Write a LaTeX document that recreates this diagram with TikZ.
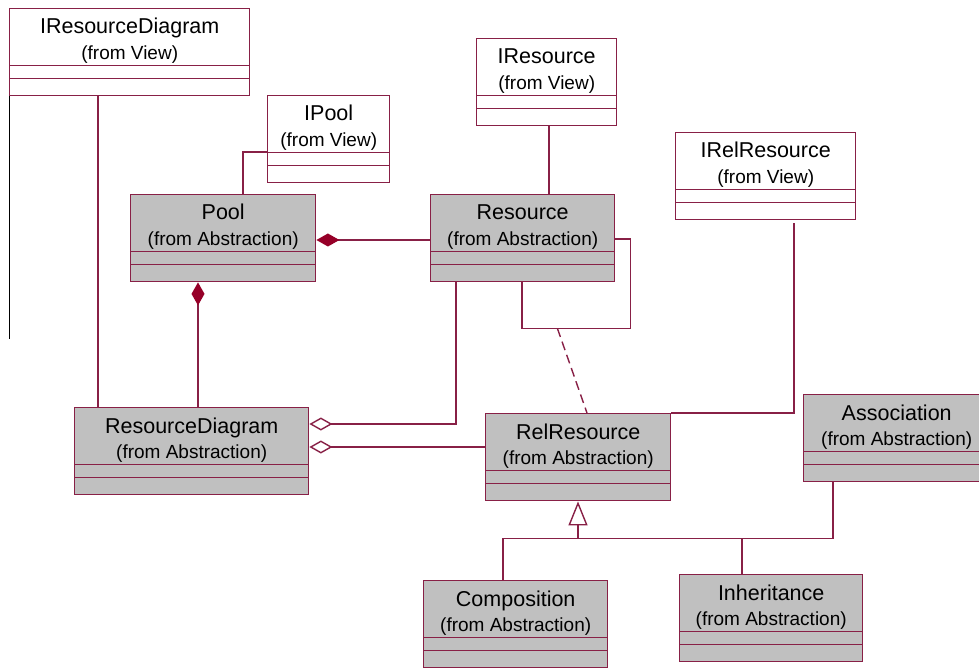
\documentclass[tikz,border=0pt]{standalone}
\usepackage{fontspec}
\setmainfont{Liberation Sans}
\usepackage{tikz}
\usetikzlibrary{arrows.meta,calc,positioning}
\definecolor{umlline}{RGB}{136,32,70}
\definecolor{umlfill}{RGB}{192,192,192}
\definecolor{compofill}{RGB}{150,0,40}

\begin{document}
\begin{tikzpicture}[
  x=1pt, y=-1pt,
  cls/.style={draw=umlline, line width=1.4pt, minimum height=87pt, inner sep=0pt, anchor=north west,
    path picture={\draw[umlline, line width=1.4pt]
      ([yshift=-57pt]path picture bounding box.north west) -- ([yshift=-57pt]path picture bounding box.north east)
      ([yshift=-70pt]path picture bounding box.north west) -- ([yshift=-70pt]path picture bounding box.north east);}},
  viewcls/.style={cls, fill=white},
  abscls/.style={cls, fill=umlfill},
  ctitle/.style={anchor=base, inner sep=0pt, font=\fontsize{21.5}{24}\selectfont},
  csub/.style={anchor=base, inner sep=0pt, font=\fontsize{19}{22}\selectfont},
  link/.style={draw=umlline, line width=1.4pt},
  compo/.style={link, {Diamond[length=23pt, width=13pt, fill=compofill, color=compofill]}-},
  aggr/.style={link, {Diamond[open, length=23pt, width=13pt, fill=white]}-},
  inherit/.style={link, -{Triangle[open, length=24pt, width=19pt, fill=white]}}
]
\clip (0,0) rectangle (979,668);

% interfaces (from View)
\node[viewcls, minimum width=240pt] (irdiag) at (9,8) {};
\node[ctitle] (irdiag-n) at ([yshift=-26pt]irdiag.north) {IResourceDiagram};
\node[csub] (irdiag-f) at ([yshift=-51.5pt]irdiag.north) {(from View)};

\node[viewcls, minimum width=122pt] (ipool) at (267,95) {};
\node[ctitle] (ipool-n) at ([yshift=-26pt]ipool.north) {IPool};
\node[csub] (ipool-f) at ([yshift=-51.5pt]ipool.north) {(from View)};

\node[viewcls, minimum width=140pt] (ires) at (476,38) {};
\node[ctitle] (ires-n) at ([yshift=-26pt]ires.north) {IResource};
\node[csub] (ires-f) at ([yshift=-51.5pt]ires.north) {(from View)};

\node[viewcls, minimum width=180pt] (irelres) at (675,132) {};
\node[ctitle] (irelres-n) at ([yshift=-26pt]irelres.north) {IRelResource};
\node[csub] (irelres-f) at ([yshift=-51.5pt]irelres.north) {(from View)};

% classes (from Abstraction)
\node[abscls, minimum width=185pt] (pool) at (130,194) {};
\node[ctitle] (pool-n) at ([yshift=-26pt]pool.north) {Pool};
\node[csub] (pool-f) at ([yshift=-51.5pt]pool.north) {(from Abstraction)};

\node[abscls, minimum width=184pt] (res) at (430,194) {};
\node[ctitle] (res-n) at ([yshift=-26pt]res.north) {Resource};
\node[csub] (res-f) at ([yshift=-51.5pt]res.north) {(from Abstraction)};

\node[abscls, minimum width=234pt] (rdiag) at (74,407) {};
\node[ctitle] (rdiag-n) at ([yshift=-26pt]rdiag.north) {ResourceDiagram};
\node[csub] (rdiag-f) at ([yshift=-51.5pt]rdiag.north) {(from Abstraction)};

\node[abscls, minimum width=185pt] (relres) at (485,413) {};
\node[ctitle] (relres-n) at ([yshift=-26pt]relres.north) {RelResource};
\node[csub] (relres-f) at ([yshift=-51.5pt]relres.north) {(from Abstraction)};

\node[abscls, minimum width=186pt] (assoc) at (803,394) {};
\node[ctitle] (assoc-n) at ([yshift=-26pt]assoc.north) {Association};
\node[csub] (assoc-f) at ([yshift=-51.5pt]assoc.north) {(from Abstraction)};

\node[abscls, minimum width=184pt] (compo) at (423,580) {};
\node[ctitle] (compo-n) at ([yshift=-26pt]compo.north) {Composition};
\node[csub] (compo-f) at ([yshift=-51.5pt]compo.north) {(from Abstraction)};

\node[abscls, minimum width=183pt] (inher) at (679,574) {};
\node[ctitle] (inher-n) at ([yshift=-26pt]inher.north) {Inheritance};
\node[csub] (inher-f) at ([yshift=-51.5pt]inher.north) {(from Abstraction)};

% connectors
\draw[black, line width=1pt] (irdiag.south west) -- ++(0,243);
\draw[link] ([xshift=89pt]irdiag.south west) -- ([xshift=89pt]irdiag.south west |- rdiag.north);
\draw[link] ([yshift=-57pt]ipool.north west) -| ([xshift=113pt]pool.north west);
\draw[link] ([xshift=73pt]ires.south west) -- ([xshift=73pt]ires.south west |- res.north);
\draw[compo] ([yshift=-46pt]pool.north east) -- ([yshift=-46pt]res.north west);
\draw[compo] ([xshift=68pt]pool.south west) -- ([xshift=68pt]pool.south west |- rdiag.north);
\draw[aggr] ([yshift=-17pt]rdiag.north east) -| ([xshift=26pt]res.south west);
\draw[aggr] ([yshift=-40pt]rdiag.north east) -- ([yshift=-34pt]relres.north west);

% association class
\coordinate (loopmid) at ([xshift=-58pt,yshift=-46pt]res.south east);
\draw[link] ([yshift=-45pt]res.north east) -| ([xshift=15pt,yshift=-46pt]res.south east) -| ([xshift=92pt]res.south west);
\draw[link, dash pattern=on 9pt off 5pt] (loopmid) -- ([xshift=102pt]relres.north west);
\draw[link] ([xshift=119pt,yshift=-3pt]irelres.south west) |- (relres.north east);

% generalisation
\coordinate (genbar) at ([xshift=93pt,yshift=-37pt]relres.south west);
\draw[inherit] (genbar) -- ([xshift=93pt]relres.south west);
\draw[link] (genbar) -| ([xshift=80pt]compo.north west);
\draw[link] (genbar) -| ([xshift=30pt]assoc.south west);
\draw[link] ([xshift=63pt]inher.north west) -- ([xshift=63pt]inher.north west |- genbar);
\end{tikzpicture}
\end{document}
